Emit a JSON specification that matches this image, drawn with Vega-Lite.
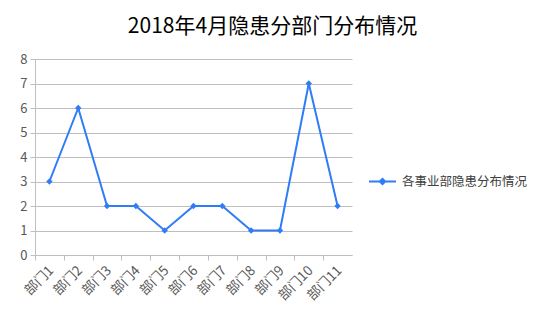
{
  "$schema": "https://vega.github.io/schema/vega-lite/v6.json",
  "width": 317,
  "height": 196,
  "autosize": "none",
  "padding": {"left": 35, "top": 59, "right": 198, "bottom": 65},
  "background": "white",
  "title": {
    "text": "2018年4月隐患分部门分布情况",
    "font": "Noto Sans CJK SC",
    "fontSize": 21,
    "fontWeight": "normal",
    "color": "#000000",
    "anchor": "middle",
    "frame": "group",
    "dx": 79,
    "offset": 16
  },
  "data": {
    "values": [
      {"dept": "部门1", "value": 3, "series": "各事业部隐患分布情况"},
      {"dept": "部门2", "value": 6, "series": "各事业部隐患分布情况"},
      {"dept": "部门3", "value": 2, "series": "各事业部隐患分布情况"},
      {"dept": "部门4", "value": 2, "series": "各事业部隐患分布情况"},
      {"dept": "部门5", "value": 1, "series": "各事业部隐患分布情况"},
      {"dept": "部门6", "value": 2, "series": "各事业部隐患分布情况"},
      {"dept": "部门7", "value": 2, "series": "各事业部隐患分布情况"},
      {"dept": "部门8", "value": 1, "series": "各事业部隐患分布情况"},
      {"dept": "部门9", "value": 1, "series": "各事业部隐患分布情况"},
      {"dept": "部门10", "value": 7, "series": "各事业部隐患分布情况"},
      {"dept": "部门11", "value": 2, "series": "各事业部隐患分布情况"}
    ]
  },
  "encoding": {
    "x": {
      "field": "dept",
      "type": "ordinal",
      "sort": null,
      "scale": {"type": "point", "padding": 0.5},
      "axis": {
        "title": null,
        "labelAngle": -45,
        "labelAlign": "right",
        "labelBaseline": "middle",
        "labelFont": "Noto Sans CJK SC",
        "labelFontSize": 13.5,
        "labelColor": "#595959",
        "labelPadding": 8,
        "labelOverlap": false,
        "tickOffset": -14.4,
        "labelOffset": 16,
        "tickSize": 5,
        "tickColor": "#bfbfbf",
        "domainColor": "#bfbfbf",
        "grid": false
      }
    },
    "y": {
      "field": "value",
      "type": "quantitative",
      "scale": {"domain": [0, 8], "nice": false},
      "axis": {
        "title": null,
        "values": [0, 1, 2, 3, 4, 5, 6, 7, 8],
        "labelOverlap": false,
        "labelFont": "Noto Sans CJK SC",
        "labelFontSize": 13,
        "labelColor": "#595959",
        "labelPadding": 3,
        "tickSize": 5,
        "tickColor": "#bfbfbf",
        "domainColor": "#bfbfbf",
        "gridColor": "#bfbfbf",
        "grid": true
      }
    },
    "color": {
      "field": "series",
      "type": "nominal",
      "scale": {"range": ["#2f7df6"]},
      "legend": {
        "title": null,
        "orient": "none",
        "legendX": 333,
        "legendY": 108,
        "padding": 0,
        "symbolType": "M-1,0L1,0M-0.2,0L0,-0.2L0.2,0L0,0.2Z",
        "symbolSize": 729,
        "symbolStrokeWidth": 2,
        "symbolFillColor": "#2f7df6",
        "labelFont": "Noto Sans CJK SC",
        "labelFontSize": 12.5,
        "labelColor": "#404040",
        "labelOffset": 5
      }
    }
  },
  "layer": [
    {"mark": {"type": "line", "strokeWidth": 2}},
    {"mark": {"type": "point", "shape": "diamond", "filled": true, "size": 40, "opacity": 1}}
  ],
  "config": {
    "view": {"stroke": null}
  }
}
